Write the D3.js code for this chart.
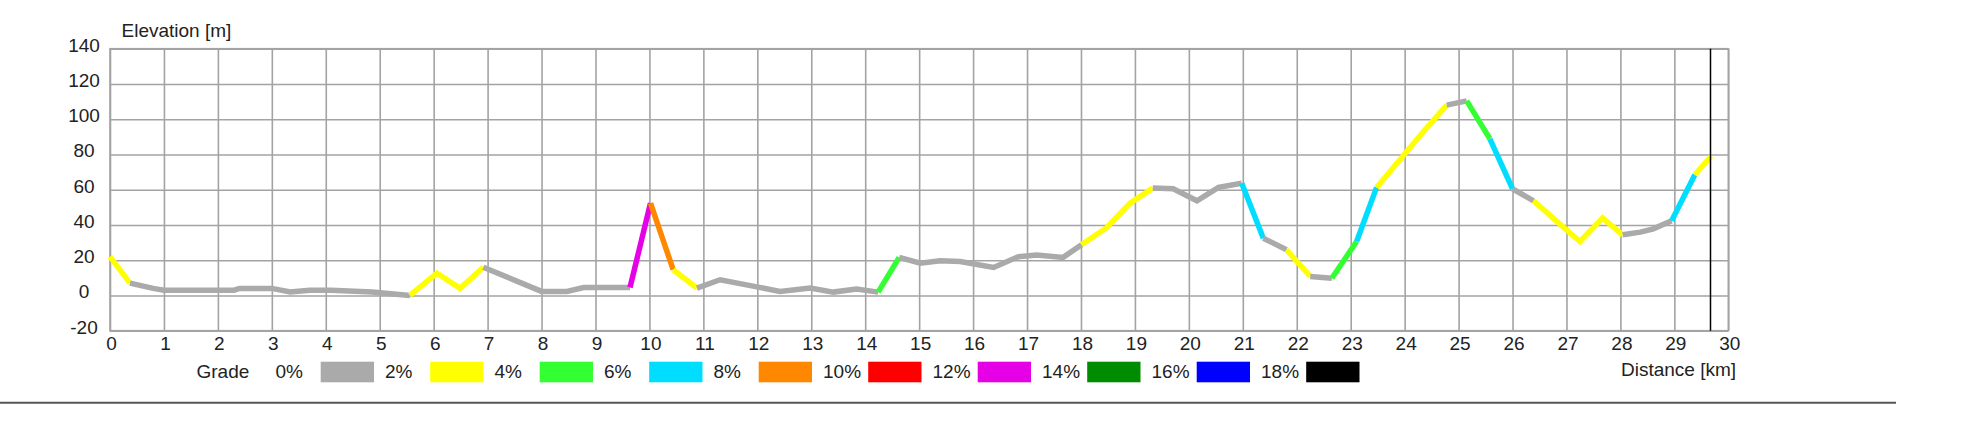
<!DOCTYPE html>
<html>
<head>
<meta charset="utf-8">
<script src="https://cdn.jsdelivr.net/npm/d3@7"></script>
<style>
  html, body { margin: 0; padding: 0; background: #fff; }
  svg { display: block; font-family: "Liberation Sans", Arial, sans-serif; }
</style>
</head>
<body>
<svg id="chart" width="1965" height="422"></svg>
<script>
// ---- data ----
const distKm = [0, 0.37, 0.8, 1.0, 2.3, 2.4, 3.0, 3.34, 3.7, 4.1, 4.86, 5.56, 6.06, 6.49, 6.92,
  8.0, 8.47, 8.78, 9.64, 10.02, 10.44, 10.88, 11.31, 11.8, 12.42, 12.98, 13.41, 13.84, 14.24,
  14.63, 15.02, 15.39, 15.76, 16.38, 16.84, 17.18, 17.67, 18.01, 18.48, 18.91, 19.33, 19.71,
  20.15, 20.55, 20.98, 21.38, 21.81, 22.25, 22.65, 23.11, 23.48, 24.35, 24.78, 25.15, 25.58,
  26.0, 26.39, 26.82, 27.25, 27.67, 28.04, 28.37, 28.61, 28.95, 29.38, 29.68];
const elevM = [22, 7, 4, 3, 3, 4, 4, 2, 3, 3, 2, 0, 12.7, 4, 16,
  2.3, 2.3, 4.5, 4.5, 52.4, 14.6, 4.2, 8.9, 6, 2.3, 4.2, 1.9, 3.6, 1.9,
  21.6, 18.3, 19.7, 19.3, 15.9, 22, 23, 21.6, 28.8, 38.6, 52.4, 60.9, 60.5,
  53.7, 61.3, 63.7, 32.5, 25.9, 10.8, 9.8, 30.6, 61.3, 93, 108, 110.4, 88.9,
  60.5, 53.7, 42, 30.6, 43.9, 34.4, 35.9, 37.8, 42.4, 68.5, 79];
// grade class of each segment (index into gradeLabels: 0 -> 0%, 1 -> 2%, ...)
const segGrade = [1, 0, 0, 0, 0, 0, 0, 0, 0, 0, 0, 1, 1, 1, 0,
  0, 0, 0, 6, 4, 1, 0, 0, 0, 0, 0, 0, 0, 2,
  0, 0, 0, 0, 0, 0, 0, 0, 1, 1, 1, 0, 0,
  0, 0, 3, 0, 1, 0, 2, 3, 1, 1, 0, 2, 3,
  0, 1, 1, 1, 1, 0, 0, 0, 3, 1];
const gradeLabels = ["0%", "2%", "4%", "6%", "8%", "10%", "12%", "14%", "16%", "18%"];
const gradeColors = ["#aaaaaa", "#ffff00", "#33ff33", "#00ddff", "#ff8800", "#ff0000", "#e600e6", "#008c00", "#0000ff", "#000000"];
const xTicks = d3.range(0, 31, 1);
const yTicks = [-20, 0, 20, 40, 60, 80, 100, 120, 140];
const markerKm = 29.67;
const yTitle = "Elevation [m]";
const xTitle = "Distance [km]";
const legendTitle = "Grade";

// ---- layout ----
const svg = d3.select("#chart");
const L = 110, R = 1728.3, T = 48.7, B = 330.7;
const x = d3.scaleLinear().domain([0, 30]).range([L, R]);
const y = d3.scaleLinear().domain([-20, 140]).range([B, T]);
const color = d3.scaleOrdinal().domain(d3.range(gradeLabels.length)).range(gradeColors);
const gridColor = "#a3a3a3";
const textColor = "#222";
const fs = 19;

// grid via axes
const gy = svg.append("g").attr("transform", `translate(${L},0)`)
  .call(d3.axisLeft(y).tickValues(yTicks).tickSize(-(R - L)).tickFormat(d => String(d)));
gy.select(".domain").remove();
gy.selectAll(".tick line").attr("stroke", gridColor).attr("stroke-width", 1.6);
gy.selectAll(".tick text").attr("x", -26).attr("dy", null).attr("y", 2.3)
  .attr("text-anchor", "middle").attr("fill", textColor).style("font-size", fs + "px")
  .style("font-family", "'Liberation Sans', Arial, sans-serif");

const gx = svg.append("g").attr("transform", `translate(0,${B})`)
  .call(d3.axisBottom(x).tickValues(xTicks).tickSize(-(B - T)).tickFormat(d => String(d)));
gx.select(".domain").remove();
gx.selectAll(".tick line").attr("stroke", gridColor).attr("stroke-width", 1.6);
gx.selectAll(".tick text").attr("x", 1).attr("dy", null).attr("y", 19.8)
  .attr("text-anchor", "middle").attr("fill", textColor).style("font-size", fs + "px")
  .style("font-family", "'Liberation Sans', Arial, sans-serif");

// frame
svg.append("rect").attr("x", L).attr("y", T).attr("width", R - L).attr("height", B - T)
  .attr("fill", "none").attr("stroke", gridColor).attr("stroke-width", 1.6);

// profile: group consecutive segments of the same grade
const pts = distKm.map((d, i) => ({ d, e: elevM[i] }));
const runs = [];
segGrade.forEach((g, i) => {
  const last = runs[runs.length - 1];
  if (last && last.g === g) last.pts.push(pts[i + 1]);
  else runs.push({ g, pts: [pts[i], pts[i + 1]] });
});
const line = d3.line().x(p => x(p.d)).y(p => y(p.e));
svg.append("g").selectAll("path").data(runs).join("path")
  .attr("d", r => line(r.pts))
  .attr("fill", "none")
  .attr("stroke", r => color(r.g))
  .attr("stroke-width", 5.5)
  .attr("stroke-linecap", "butt")
  .attr("stroke-linejoin", "miter");

// marker line
svg.append("line").attr("x1", x(markerKm)).attr("x2", x(markerKm)).attr("y1", T).attr("y2", B)
  .attr("stroke", "#000").attr("stroke-width", 1.5);

// titles
svg.append("text").attr("x", 121.5).attr("y", 37).attr("fill", textColor)
  .style("font-size", fs + "px").text(yTitle);
svg.append("text").attr("x", 1621).attr("y", 375.5).attr("fill", textColor)
  .style("font-size", fs + "px").text(xTitle);

// legend
const legY = 361.7, boxW = 53.3, boxH = 20.6, step = 109.5, box0 = 320.7;
svg.append("text").attr("x", 196.5).attr("y", 378).attr("fill", textColor)
  .style("font-size", fs + "px").text(legendTitle);
const leg = svg.append("g").selectAll("g").data(gradeLabels).join("g");
leg.append("rect")
  .attr("x", (d, i) => box0 + i * step).attr("y", legY)
  .attr("width", boxW).attr("height", boxH)
  .attr("fill", (d, i) => color(i));
leg.append("text")
  .attr("x", (d, i) => box0 + i * step - step + boxW + 11).attr("y", 378)
  .attr("text-anchor", "start").attr("fill", textColor)
  .style("font-size", fs + "px").text(d => d);

// bottom rule
svg.append("line").attr("x1", 0).attr("x2", 1896).attr("y1", 402.7).attr("y2", 402.7)
  .attr("stroke", "#555").attr("stroke-width", 2);
</script>
</body>
</html>
